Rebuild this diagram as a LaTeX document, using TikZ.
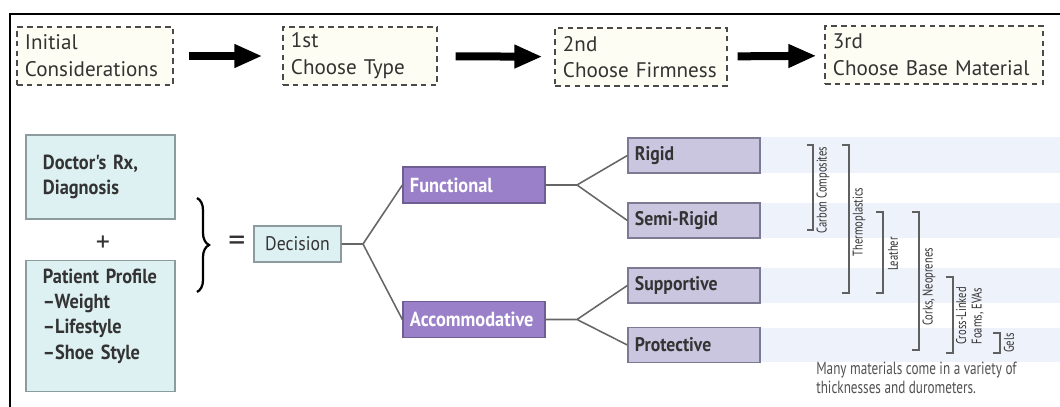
\documentclass[tikz,border=0pt]{standalone}
\usepackage{fontspec}
\setmainfont{PT Sans}
\newfontfamily\narrowfont[FakeStretch=0.9]{PT Sans}
\newfontfamily\tinyfont[FakeStretch=0.75]{PT Sans}
\usetikzlibrary{
    arrows.meta,
    decorations.pathreplacing,
    positioning
}
\definecolor{stagefill}{HTML}{FDFDF3}
\definecolor{stageline}{HTML}{4A4A4A}
\definecolor{inputfill}{HTML}{DDF0F2}
\definecolor{inputline}{HTML}{8C9C9E}
\definecolor{typefill}{HTML}{9A80C8}
\definecolor{typeline}{HTML}{6E5E92}
\definecolor{firmfill}{HTML}{CAC6E0}
\definecolor{firmline}{HTML}{7C7A92}
\definecolor{bandblue}{HTML}{EEF2FA}
\definecolor{inktext}{HTML}{333333}
\tikzset{
    stagebox/.style={draw=stageline, fill=stagefill, dash pattern=on 4pt off 3pt,
        line width=0.9pt, align=left, inner xsep=0.2cm, minimum height=1.45cm,
        text=inktext, font=\fontsize{15}{19}\selectfont},
    bigarrow/.style={line width=0.2cm, -{Triangle[length=0.7cm, width=0.55cm]}},
    inputbox/.style={draw=inputline, fill=inputfill, line width=0.9pt, align=left,
        inner xsep=0.425cm, text width=2.875cm, text=inktext,
        font=\narrowfont\bfseries\fontsize{14.5}{18}\selectfont},
    typebox/.style={draw=typeline, fill=typefill, line width=0.9pt, align=left,
        inner xsep=0.175cm, text width=3.2cm, minimum height=0.9cm, text=white,
        font=\narrowfont\bfseries\fontsize{14.5}{16}\selectfont},
    firmbox/.style={draw=firmline, fill=firmfill, line width=0.9pt, align=left,
        inner xsep=0.175cm, text width=2.95cm, minimum height=0.875cm, text=inktext,
        font=\narrowfont\bfseries\fontsize{14}{16}\selectfont},
    branch/.style={draw=gray!80!black, line width=1.1pt},
    matbar/.style={draw=gray!75!black, line width=0.8pt},
    matlabel/.style={rotate=90, inner sep=0pt, text=inktext, align=center,
        font=\tinyfont\fontsize{10}{10}\selectfont}
}

\begin{document}
\begin{tikzpicture}[x=0.025cm, y=-0.025cm]
    \useasboundingbox (0,0) rectangle (1060,407);
    \clip (0,0) rectangle (1060,407);
    \fill[white] (0,0) rectangle (1060,407);
    \draw[line width=1.6pt] (1060,14) -- (10,14) -- (10,407);

    % stages along the top
    \node[stagebox, minimum width=3.9cm, text width=3.5cm] (initial) at (95,56) {Initial\\Considerations};
    \node[stagebox, minimum width=3.85cm, text width=3.45cm] (type) at (360,56) {1st\\Choose Type};
    \node[stagebox, minimum width=4.3cm, text width=3.9cm] (firm) at (641,57) {2nd\\Choose Firmness};
    \node[stagebox, minimum width=5.45cm, text width=5.05cm] (base) at (934,55) {3rd\\Choose Base Material};
    \draw[bigarrow, shorten <=0.375cm, shorten >=0.5cm] (initial) -- (type);
    \draw[bigarrow, shorten <=0.45cm, shorten >=0.3cm] (type) -- (firm);
    \draw[bigarrow, shorten <=0.25cm, shorten >=0.2cm] (firm) -- (base);

    % bands behind the materials
    \fill[bandblue] (760,137) rectangle (1060,173);
    \fill[bandblue] (760,203) rectangle (1060,238);
    \fill[bandblue] (760,268) rectangle (1060,303);
    \fill[bandblue] (760,328) rectangle (1060,362);

    % inputs and decision
    \node[inputbox, minimum height=2.1cm] (doctor) at (100.5,177) {Doctor's Rx,\\Diagnosis};
    \node[font=\fontsize{20}{20}\selectfont, text=inktext] (plus) at (103,244) {+};
    \node[inputbox, anchor=north, inner ysep=0.2cm, text depth=2.5cm] (patient) at (100.5,260)
        {Patient Profile\\–Weight\\–Lifestyle\\–Shoe Style};
    \draw[line width=1.6pt, decorate, decoration={brace, amplitude=0.3cm}] (197,198) -- (197,292);
    \node[font=\fontsize{24}{24}\selectfont, text=inktext] (equals) at (237,244) {=};
    \node[draw=inputline, fill=inputfill, line width=0.9pt, minimum width=2.175cm, minimum height=0.9cm,
        text=inktext, font=\narrowfont\fontsize{14}{16}\selectfont] (decision) at (297.5,244) {Decision};

    % type and firmness
    \node[typebox] (functional) at (474,185) {Functional};
    \node[typebox] (accommodative) at (474,319.5) {Accommodative};
    \node[firmbox] (rigid) at (694,155.5) {Rigid};
    \node[firmbox] (semirigid) at (694,220.5) {Semi-Rigid};
    \node[firmbox] (supportive) at (694,285.5) {Supportive};
    \node[firmbox] (protective) at (694,345) {Protective};

    \coordinate (fk0) at (363,244);
    \coordinate (fk1) at (577,185);
    \coordinate (fk2) at (577,319.5);
    \draw[branch] (decision) -- (fk0) -- (functional.west) (fk0) -- (accommodative.west);
    \draw[branch] (functional) -- (fk1) -- (rigid.west) (fk1) -- (semirigid.west);
    \draw[branch] (accommodative) -- (fk2) -- (supportive.west) (fk2) -- (protective.west);

    % base materials
    \draw[matbar] (807,145) -- (813,145) -- (813,230) -- (807,230);
    \node[matlabel] (carbon) at (823,190) {Carbon Composites};
    \draw[matbar] (842,145) -- (849,145) -- (849,293) -- (842,293);
    \node[matlabel] (thermo) at (859,222) {Thermoplastics};
    \draw[matbar] (876,212) -- (883,212) -- (883,293) -- (876,293);
    \node[matlabel] (leather) at (893,254) {Leather};
    \draw[matbar] (912,212) -- (919,212) -- (919,350) -- (912,350);
    \node[matlabel] (corks) at (929,287) {Corks, Neoprenes};
    \draw[matbar] (946,277) -- (953,277) -- (953,353) -- (946,353);
    \node[matlabel, font=\tinyfont\fontsize{10}{11}\selectfont] (foams) at (970,316) {Cross-Linked\\Foams, EVAs};
    \draw[matbar] (993,333) -- (1000,333) -- (1000,353) -- (993,353);
    \node[matlabel] (gels) at (1009,343) {Gels};
    \node[anchor=north west, align=left, inner sep=0pt, text=inktext!85,
        font=\tinyfont\fontsize{12.5}{13}\selectfont] (note) at (816,362)
        {Many materials come in a variety of\\thicknesses and durometers.};
\end{tikzpicture}
\end{document}
